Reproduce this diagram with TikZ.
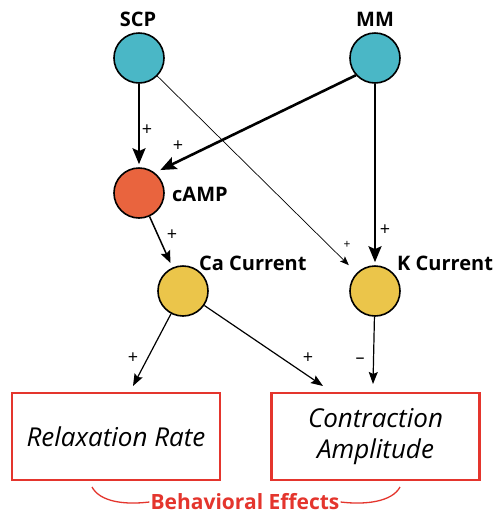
\documentclass[tikz,border=0pt]{standalone}
\usepackage{fontspec}
\setmainfont{Open Sans}
\usetikzlibrary{arrows.meta}
\definecolor{teal1}{HTML}{4AB7C6}
\definecolor{orng}{HTML}{E9643E}
\definecolor{yell}{HTML}{EBC54A}
\definecolor{boxred}{HTML}{E4352D}
\tikzset{
  circ/.style={circle,draw=black,line width=1.6pt,minimum size=50pt,inner sep=0pt},
  lbl/.style={font=\bfseries\fontsize{20}{22}\selectfont,inner sep=0pt},
  sign/.style={font=\fontsize{18}{18}\selectfont,inner sep=0pt},
  bigarr/.style={line width=2.6pt,-{Stealth[length=16pt,width=13pt,inset=3pt]}},
  midarr/.style={line width=1.5pt,-{Stealth[length=12pt,width=10pt,inset=2pt]}},
  smallarr/.style={line width=1.2pt,-{Stealth[length=12pt,width=9pt,inset=2pt]}},
  thinarr/.style={line width=0.7pt,-{Stealth[length=9pt,width=7pt,inset=2pt]}},
  effbox/.style={draw=boxred,line width=2.4pt,minimum width=208pt,minimum height=87pt,inner sep=0pt,
    font=\itshape\fontsize{26}{31}\selectfont,align=center},
}
\begin{document}
\begin{tikzpicture}[x=1pt,y=-1pt]
\useasboundingbox[fill=white] (0,0) rectangle (503,515);
% nodes
\node[circ,fill=teal1] (scp) at (139,58) {};
\node[circ,fill=teal1] (mm) at (375,58) {};
\node[circ,fill=orng] (camp) at (139,193) {};
\node[circ,fill=yell] (ca) at (183,291) {};
\node[circ,fill=yell] (k) at (375,291) {};
\node[lbl] (scpl) at (138,19) {SCP};
\node[lbl] (mml) at (375,19) {MM};
\node[lbl,anchor=west] (campl) at (172,194) {cAMP};
\node[lbl,anchor=west] (cal) at (199,263) {Ca Current};
\node[lbl,anchor=west] (kl) at (397,263) {K Current};
\node[effbox] (rel) at (116,436.5) {Relaxation Rate};
\node[effbox] (con) at (375.5,436.5) {Contraction\\Amplitude};
\coordinate (relin) at (133,386);
\coordinate (conin1) at (323,386);
\coordinate (conin2) at (373,384);
% connectors
\draw[bigarr,shorten >=3pt] (scp) -- (camp);
\draw[bigarr,shorten >=6pt] (mm.222) -- (camp.52);
\draw[thinarr,shorten >=11pt] (scp) -- (k);
\draw[bigarr,shorten >=3pt] (mm) -- (k);
\draw[midarr,shorten >=5pt] (camp) -- (ca);
\draw[smallarr] (ca) -- (relin);
\draw[smallarr] (ca) -- (conin1);
\draw[smallarr] (k) -- (conin2);
% signs
\node[sign] (s1) at (147,130) {+};
\node[sign] (s2) at (178,146) {+};
\node[sign] (s3) at (172,235) {+};
\node[sign,font=\fontsize{12}{12}\selectfont] (s4) at (347,245) {+};
\node[sign] (s5) at (385,230) {+};
\node[sign] (s6) at (133,358) {+};
\node[sign] (s7) at (308,358) {+};
\node[sign] (s8) at (360,361) {\textendash};
% behavioral effects
\node[font=\bfseries\fontsize{21}{22}\selectfont,text=boxred,inner sep=1pt] (beh) at (245,502) {Behavioral Effects};
\coordinate (bl) at (92,487);
\coordinate (br) at (400,487);
\draw[boxred,line width=1.3pt] (bl) .. controls (100,502) and (125,505) .. (beh.west);
\draw[boxred,line width=1.3pt] (beh.east) .. controls (365,505) and (392,502) .. (br);
\end{tikzpicture}
\end{document}
